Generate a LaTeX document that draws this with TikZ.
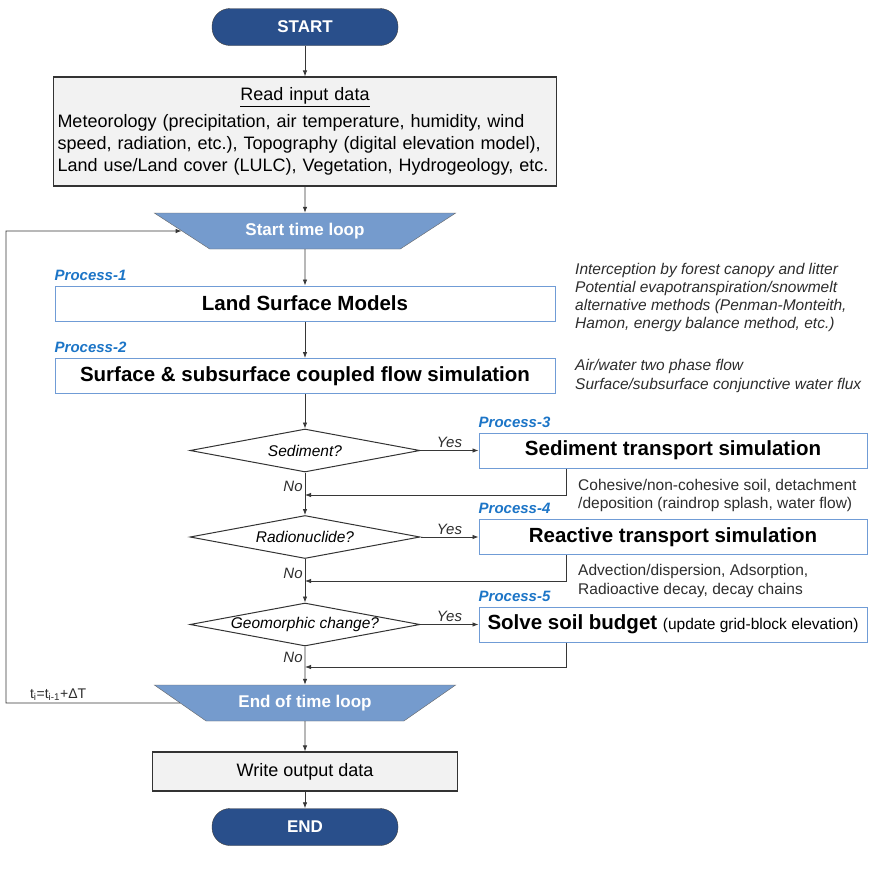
\documentclass[tikz,border=0pt]{standalone}
\usepackage{fontspec}
\setmainfont{Liberation Sans}
\usetikzlibrary{arrows.meta,positioning,shapes.geometric,calc}

\definecolor{termblue}{RGB}{41,79,139}
\definecolor{loopblue}{RGB}{117,155,205}
\definecolor{procblue}{RGB}{28,117,199}
\definecolor{boxblue}{RGB}{112,156,214}
\definecolor{datagray}{RGB}{242,242,242}
\definecolor{linegray}{RGB}{55,55,55}
\definecolor{notegray}{RGB}{45,45,45}

\tikzset{
        terminal/.style={ % START and END
            rectangle, rounded corners=18pt,
            draw=black!75, fill=termblue, text=white,
            font=\bfseries\fontsize{17}{20}\selectfont,
            minimum width=186, minimum height=37},
        databox/.style={ % reading and writing of data
            rectangle, draw=black!80, line width=1.2pt, fill=datagray,
            font=\fontsize{18}{22}\selectfont},
        looptrap/.style={ % start and end of the time loop
            trapezium, trapezium stretches=true, shape border rotate=180,
            trapezium angle=31.6, minimum width=302, minimum height=36,
            draw=black!60, fill=loopblue, text=white,
            font=\bfseries\fontsize{17}{20}\selectfont},
        procbox/.style={ % one of the processes
            rectangle, draw=boxblue, line width=1pt, fill=white,
            minimum height=35,
            font=\bfseries\fontsize{20.5}{24}\selectfont},
        proclabel/.style={
            inner sep=0pt, text=procblue,
            font=\bfseries\itshape\fontsize{15}{18}\selectfont},
        decision/.style={
            diamond, aspect=5.3, draw=black!80, line width=1pt, fill=white,
            minimum width=230, minimum height=43, inner sep=0pt,
            font=\itshape\fontsize{15.5}{18}\selectfont},
        note/.style={
            align=left, inner sep=0pt, text=notegray,
            font=\fontsize{15.5}{18.3}\selectfont},
        inote/.style={note, font=\itshape\fontsize{15.5}{18.3}\selectfont},
        answer/.style={
            inner sep=2pt, text=notegray,
            font=\itshape\fontsize{15}{18}\selectfont},
        flow/.style={ % every connector
            draw=linegray, line width=0.8pt,
            -{Latex[length=6pt,width=4.5pt]}}
        }

\begin{document}
\begin{tikzpicture}[x=1pt, y=-1pt]
    \fill[white] (0,0) rectangle (870,870);
    \useasboundingbox (0,0) rectangle (870,870);

    % main column
    \node[terminal]                 (start)     at (305,27)    {START};
    \node[databox, minimum width=503, minimum height=109,
          text width=495, align=left] (input)   at (305,131.5)
        {\makebox[495pt]{\underline{Read input data}}\\[5pt]
         Meteorology (precipitation, air temperature, humidity, wind\\
         speed, radiation, etc.), Topography (digital elevation model),\\
         Land use/Land cover (LULC), Vegetation, Hydrogeology, etc.};
    \node[looptrap]                 (loopstart) at (305,231)   {Start time loop};
    \node[procbox, minimum width=500] (lsm)     at (305,303.5) {Land Surface Models};
    \node[procbox, minimum width=500] (flow)    at (305,376)   {Surface \& subsurface coupled flow simulation};
    \node[decision]                 (sed)       at (305,450.5) {Sediment?};
    \node[decision]                 (rad)       at (305,537)   {Radionuclide?};
    \node[decision]                 (geo)       at (305,624.5) {Geomorphic change?};
    \node[looptrap]                 (loopend)   at (305,703)   {End of time loop};
    \node[databox, minimum width=305, minimum height=39] (output) at (305,771.5) {Write output data};
    \node[terminal]                 (stop)      at (305,827)   {END};

    % optional processes
    \node[procbox, minimum width=388] (sedsim)  at (673,450.5) {Sediment transport simulation};
    \node[procbox, minimum width=388] (reac)    at (673,537)   {Reactive transport simulation};
    \node[procbox, minimum width=388] (soil)    at (673,624.5)
        {Solve soil budget {\mdseries\fontsize{15.5}{18}\selectfont (update grid-block elevation)}};

    \node[proclabel, above right=5pt and 0pt of lsm.north west]    {Process-1};
    \node[proclabel, above right=5pt and 0pt of flow.north west]   {Process-2};
    \node[proclabel, above right=5pt and 0pt of sedsim.north west] {Process-3};
    \node[proclabel, above right=5pt and 0pt of reac.north west]   {Process-4};
    \node[proclabel, above right=5pt and 0pt of soil.north west]   {Process-5};

    % notes
    \node[inote, anchor=west] (lsmnote) at (575,297.5)
        {Interception by forest canopy and litter\\
         Potential evapotranspiration/snowmelt\\
         alternative methods (Penman-Monteith,\\
         Hamon, energy balance method, etc.)};
    \node[inote, anchor=west] (flownote) at (575,376)
        {Air/water two phase flow\\
         Surface/subsurface conjunctive water flux};
    \node[note, anchor=west] (sednote) at (578,495.5)
        {Cohesive/non-cohesive soil, detachment\\
         /deposition (raindrop splash, water flow)};
    \node[note, anchor=west] (reacnote) at (578,581)
        {Advection/dispersion, Adsorption,\\
         Radioactive decay, decay chains};

    \coordinate (join1) at (305,495);
    \coordinate (join2) at (305,581);
    \coordinate (join3) at (305,667);
    \coordinate (loopcorner) at (6,703);

    \draw[flow] (start) -- (input);
    \draw[flow] (input) -- (loopstart);
    \draw[flow] (loopstart) -- (lsm);
    \draw[flow] (lsm) -- (flow);
    \draw[flow] (flow) -- (sed);
    \draw[flow] (sed) -- node[answer, left, pos=0.32] {No} (rad);
    \draw[flow] (rad) -- node[answer, left, pos=0.33] {No} (geo);
    \draw[flow] (geo) -- node[answer, left, pos=0.28] {No} (loopend);
    \draw[flow] (loopend) -- (output);
    \draw[flow] (output) -- (stop);

    \draw[flow] (sed.east) -- node[answer, above] {Yes} (sedsim.west);
    \draw[flow] (rad.east) -- node[answer, above] {Yes} (reac.west);
    \draw[flow] (geo.east) -- node[answer, above] {Yes} (soil.west);

    \draw[flow] ($(sedsim.south west)+(88,0)$) |- (join1);
    \draw[flow] ($(reac.south west)+(88,0)$) |- (join2);
    \draw[flow] ($(soil.south west)+(88,0)$) |- (join3);

    % back to the start of the loop
    \draw[flow] (loopend.west)
        -- node[answer, above, pos=0.7, font=\fontsize{14}{16}\selectfont]
           {t\textsubscript{i}=t\textsubscript{i-1}+ΔT} (loopcorner)
        |- (loopstart.west);
\end{tikzpicture}
\end{document}
